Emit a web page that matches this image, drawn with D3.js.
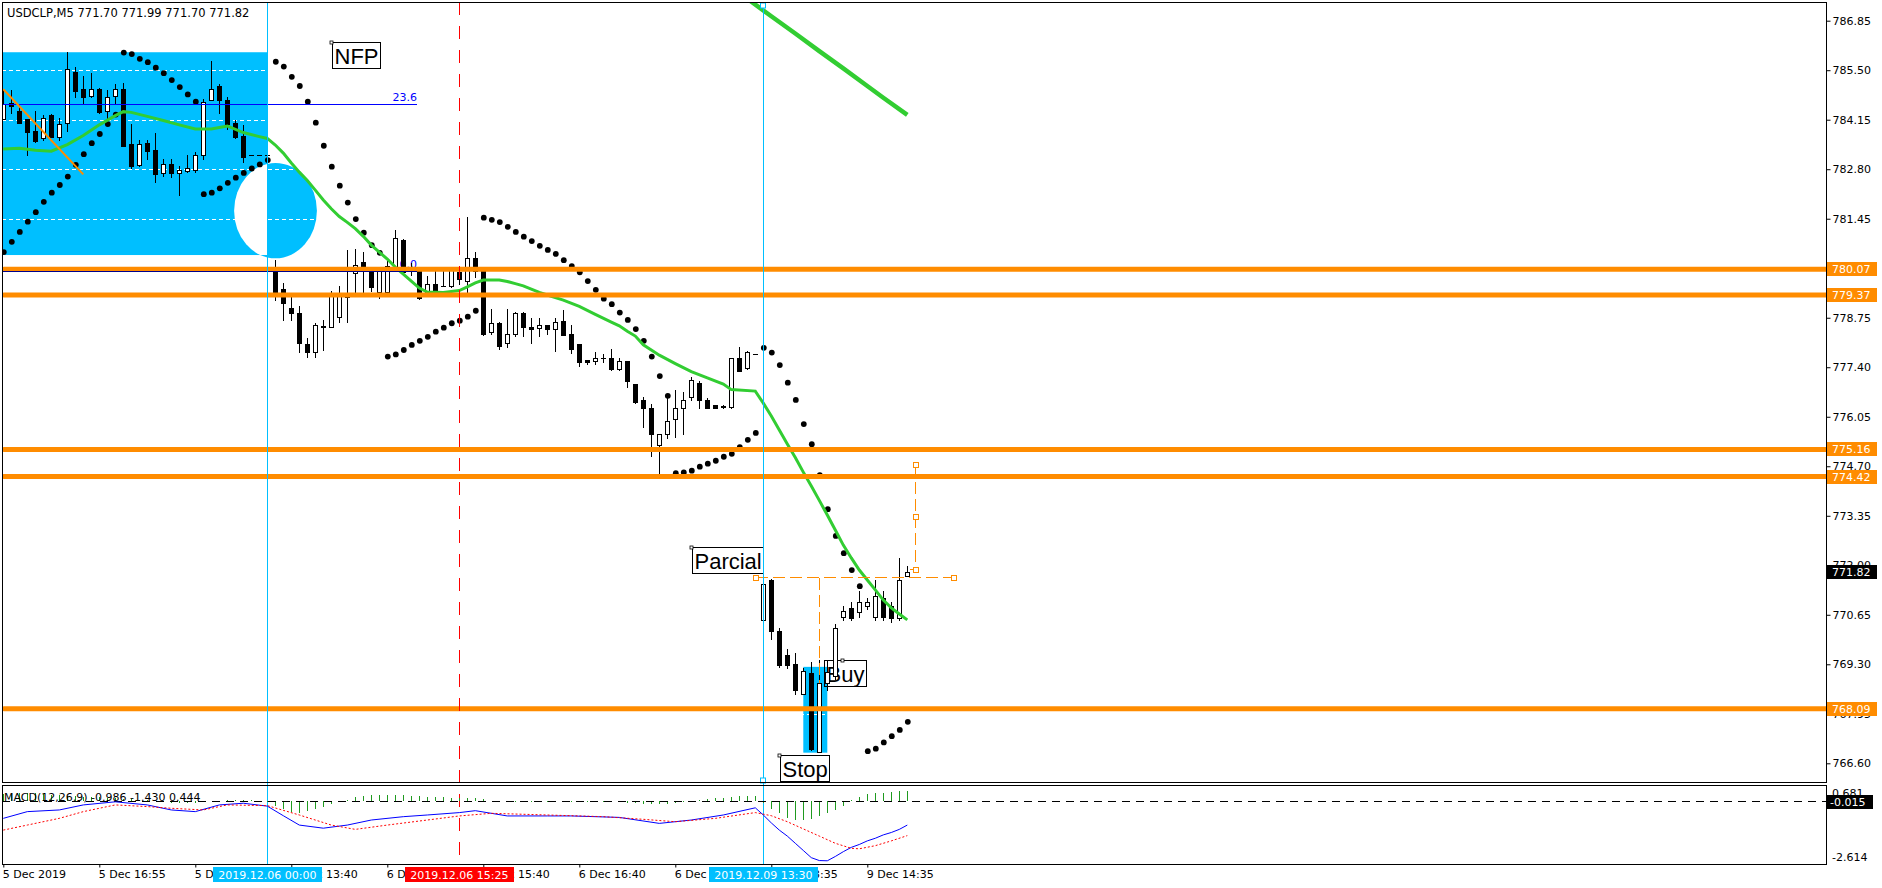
<!DOCTYPE html>
<html><head><meta charset="utf-8">
<script src="https://cdnjs.cloudflare.com/ajax/libs/d3/7.8.5/d3.min.js"></script>
<style>
html,body{margin:0;padding:0;background:#fff;}
svg{display:block;}
text{font-family:"DejaVu Sans",Tahoma,sans-serif;}
</style></head><body>
<svg id="chart" width="1882" height="888"></svg>
<script>
// ================= DATA =================
const chartTitle = "USDCLP,M5  771.70 771.99 771.70 771.82";
const macdTitle = "MACD(12,26,9) -0.986 -1.430 0.444";

const opens = [
784.18,784.60,784.38,784.16,783.84,783.64,784.27,783.68,784.05,785.45,
785.00,784.79,785.00,784.39,784.81,784.99,783.48,782.91,783.52,783.32,
782.70,782.94,782.71,782.75,782.79,783.20,784.70,785.07,784.70,784.06,
783.70,783.18,783.18,783.18,780.00,779.53,779.02,778.89,778.03,777.82,
778.52,778.50,778.77,779.33,779.98,780.26,780.07,779.46,779.44,780.07,
780.87,780.02,780.09,779.36,779.68,779.62,779.62,779.99,779.76,780.39,
780.05,778.36,778.62,778.05,778.32,778.89,778.49,778.46,778.55,778.43,
778.66,778.30,778.03,777.59,777.57,777.66,777.64,777.35,777.57,776.93,
776.50,776.28,775.29,775.57,776.00,776.30,776.58,776.96,776.52,776.37,
776.33,776.32,777.64,777.37,777.76,770.50,771.59,770.21,769.55,769.30,
768.50,769.05,766.91,768.78,768.98,770.60,770.83,770.72,770.90,770.60,
771.10,770.90,770.55,771.70];
const highs = [
784.96,784.96,784.57,784.17,784.38,784.27,784.30,784.19,785.99,785.59,
785.34,785.43,785.01,784.96,785.12,785.14,784.03,783.59,783.59,783.80,
783.07,783.07,782.88,783.18,783.27,784.71,785.75,785.12,784.76,784.14,
784.00,783.18,783.18,783.18,780.32,779.71,779.34,779.07,778.21,778.60,
778.68,779.48,779.61,780.61,780.62,780.53,780.12,780.09,780.37,781.14,
780.89,780.23,780.10,779.88,780.12,780.09,780.10,780.09,781.50,780.54,
780.06,779.00,778.63,779.00,778.90,778.90,778.73,778.73,778.56,778.73,
778.96,778.55,778.03,777.61,777.82,777.76,777.91,777.64,777.57,776.94,
776.59,776.39,775.59,776.56,776.77,776.73,777.14,777.03,776.55,776.37,
776.37,777.64,777.94,777.85,777.76,772.08,771.62,770.28,769.73,769.60,
769.19,769.36,769.41,769.40,770.40,770.90,771.00,771.30,771.10,771.60,
771.30,771.00,772.20,771.99];
const lows = [
784.17,784.33,784.05,783.18,783.54,783.59,783.67,783.59,783.84,784.77,
784.57,784.78,784.33,784.19,784.60,783.43,782.82,782.88,783.09,782.45,
782.61,782.59,782.09,782.73,782.72,783.07,784.68,784.34,783.91,783.65,
783.00,783.18,783.18,783.18,779.23,778.68,778.68,777.82,777.68,777.68,
777.87,778.49,778.64,778.64,779.37,779.46,779.48,779.30,779.43,780.05,
779.99,779.91,779.26,779.34,779.37,779.61,779.58,779.68,779.34,779.86,
778.27,778.32,777.91,777.94,778.25,778.26,778.05,778.26,778.32,777.84,
778.27,777.79,777.43,777.48,777.48,777.55,777.32,777.32,776.87,776.42,
775.77,774.98,774.48,775.46,775.49,775.59,776.50,776.30,776.28,776.28,
776.28,776.28,777.29,777.36,777.76,770.37,770.00,769.22,769.19,768.50,
768.49,766.96,766.90,768.60,768.90,770.50,770.50,770.60,770.80,770.50,
770.50,770.45,770.50,771.70];
const closes = [
784.57,784.52,784.06,783.82,783.57,784.21,783.68,784.02,785.53,784.93,
784.77,785.00,784.36,784.77,784.98,783.44,782.89,783.50,783.30,782.68,
782.93,782.70,782.77,782.84,783.18,784.64,784.98,784.70,784.03,783.67,
783.14,783.18,783.18,783.18,779.43,779.14,778.88,778.07,777.82,778.54,
778.51,779.41,779.34,779.31,780.20,780.02,779.58,780.03,780.16,780.93,
780.00,780.09,779.29,779.66,779.48,779.62,780.09,779.80,780.39,780.03,
778.32,778.62,777.98,778.30,778.89,778.49,778.43,778.55,778.43,778.64,
778.29,777.89,777.55,777.55,777.64,777.66,777.35,777.57,777.03,776.44,
776.28,775.59,775.57,775.94,776.30,776.52,777.05,776.52,776.30,776.30,
776.31,777.64,777.29,777.82,777.76,771.48,770.21,769.28,769.28,768.59,
769.12,767.00,768.78,769.10,770.29,770.75,770.56,770.99,771.00,771.16,
770.60,770.55,771.60,771.82];

// Parabolic SAR, one per bar
const sar = [
780.54,780.82,781.09,781.37,781.63,781.91,782.16,782.37,782.60,782.92,
783.21,783.51,783.76,784.03,784.29,785.98,785.94,785.81,785.72,785.57,
785.42,785.23,785.04,784.84,784.64,782.12,782.16,782.28,782.43,782.57,
782.70,782.82,782.93,783.05,785.73,785.60,785.32,785.07,784.64,784.07,
783.44,782.87,782.35,781.89,781.44,781.07,780.73,780.52,777.69,777.75,
777.87,778.01,778.12,778.23,778.37,778.48,778.60,778.67,778.78,778.94,
781.48,781.42,781.36,781.23,781.09,780.96,780.84,780.71,780.60,780.49,
780.32,780.16,779.99,779.75,779.51,779.27,779.12,778.89,778.69,778.44,
778.12,777.69,777.16,776.62,774.51,774.53,774.58,774.69,774.77,774.85,
774.96,775.04,775.22,775.42,775.61,777.93,777.80,777.46,776.98,776.51,
775.85,775.30,774.46,773.53,772.80,772.33,771.87,771.43,766.93,767.00,
767.17,767.34,767.51,767.73];

// Moving average (green), read at bar indices
const maIdx = [0,2,4,6,8,10,12,14,15,16,18,20,22,24,26,28,30,32,33,34,35,36,37,38,39,40,41,42,43,44,45,46,47,48,49,50,51,52,53,55,57,58,59,60,62,63,64,65,66,67,68,70,72,74,76,77,78,79,80,82,84,86,88,90,91,94,95,96,97,98,99,100,101,102,103,104,105,106,107,108,109,110,111,112,113];
const maVal = [783.35,783.37,783.32,783.29,783.47,783.72,784.01,784.26,784.37,784.35,784.24,784.13,784.01,783.90,783.90,783.98,783.80,783.69,783.64,783.46,783.24,782.97,782.72,782.49,782.23,781.96,781.72,781.51,781.35,781.18,780.97,780.73,780.54,780.35,780.13,779.94,779.75,779.56,779.45,779.44,779.49,779.59,779.70,779.78,779.78,779.74,779.68,779.62,779.53,779.44,779.37,779.23,779.06,778.84,778.63,778.53,778.38,778.25,778.01,777.73,777.50,777.28,777.11,776.94,776.79,776.75,776.42,776.07,775.69,775.31,774.94,774.54,774.16,773.77,773.37,772.96,772.55,772.20,771.87,771.60,771.33,771.05,770.84,770.67,770.51];

// Higher-timeframe MA (thick green, top right)
const ma2Idx = [93,96,99,102,105,108,110,113];
const ma2Val = [787.45,786.97,786.50,786.02,785.55,785.07,784.75,784.28];

// MACD
const macdIdx = [0,3,7,10,14,18,21,24,27,30,33,35,37,40,43,46,50,53,57,59,63,68,71,77,82,86,90,94,95,96,97,98,99,100,101,102,103,104,105,106,107,108,109,110,111,112,113];
const macdMain = [-0.71,-0.43,-0.36,-0.15,-0.02,-0.15,-0.36,-0.43,-0.15,-0.08,-0.20,-0.60,-0.99,-1.12,-0.99,-0.78,-0.64,-0.57,-0.47,-0.39,-0.61,-0.61,-0.61,-0.67,-0.92,-0.78,-0.57,-0.27,-0.57,-0.90,-1.20,-1.45,-1.75,-2.05,-2.35,-2.47,-2.48,-2.30,-2.10,-1.92,-1.80,-1.65,-1.54,-1.40,-1.30,-1.17,-0.99];
const sigIdx = [0,3,7,10,14,18,21,25,28,33,37,41,44,48,53,57,61,68,75,80,84,89,94,96,98,100,102,104,106,107,109,111,113];
const sigVal = [-1.20,-0.99,-0.71,-0.43,-0.15,-0.22,-0.29,-0.36,-0.15,-0.18,-0.57,-0.99,-1.17,-0.99,-0.78,-0.61,-0.50,-0.57,-0.64,-0.75,-0.85,-0.71,-0.47,-0.60,-0.85,-1.15,-1.45,-1.75,-1.96,-1.98,-1.85,-1.65,-1.43];
const macdHist = [
0.30,0.32,0.34,0.35,0.33,0.30,0.27,0.25,0.24,0.22,
0.20,0.18,0.16,0.14,0.12,0.10,0.08,0.07,0.06,0.03,
-0.02,-0.05,-0.07,-0.07,-0.06,-0.04,0.00,0.03,0.04,0.05,
0.06,0.04,0.02,-0.02,-0.18,-0.33,-0.45,-0.48,-0.42,-0.33,
-0.22,-0.12,-0.04,0.06,0.16,0.22,0.26,0.28,0.28,0.27,
0.25,0.23,0.21,0.20,0.18,0.16,0.15,0.14,0.14,0.13,
0.09,0.02,-0.03,-0.04,-0.03,-0.02,-0.02,-0.03,-0.04,-0.03,
-0.02,-0.01,0.00,-0.01,-0.02,-0.02,-0.02,-0.03,-0.06,-0.09,
-0.11,-0.12,-0.12,-0.10,-0.06,-0.01,0.03,0.07,0.11,0.13,
0.15,0.20,0.22,0.24,0.22,-0.05,-0.30,-0.50,-0.68,-0.76,
-0.78,-0.72,-0.62,-0.50,-0.38,-0.18,0.05,0.16,0.30,0.33,
0.35,0.38,0.41,0.444];
const macdMax = 0.681, macdMin = -2.614, macdLevel = -0.015;

// Axis ticks
const priceTicks = [786.85,785.50,784.15,782.80,781.45,780.10,778.75,777.40,776.05,774.70,773.35,772.00,770.65,769.30,767.95,766.60];
const timeIdx = [0,12,24,36,48,60,72,84,96,108];
const timeLabels = ["5 Dec 2019","5 Dec 16:55","5 Dec 17:55","6 Dec 13:40","6 Dec 14:40","6 Dec 15:40","6 Dec 16:40","6 Dec 17:40","9 Dec 13:35","9 Dec 14:35"];

// Objects
const levelPrices = [780.07,779.37,775.16,774.42,768.09];
const lastPrice = 771.82;
const vLineIdx = [33,57,95];
const vLineLabels = ["2019.12.06 00:00","2019.12.06 15:25","2019.12.09 13:30"];
const vLineColors = ["#00bfff","#ff0000","#00bfff"];
const fibLevels = ["23.6","0.0"];
const fibPrices = [784.58,780.02];
const fibEndIdx = 51.7;
const fibTrendIdx = [0,10], fibTrendPrice = [784.98,782.66];
const boxIdx = [-1,33], boxPrice = [785.99,780.46];
const ellIdx = [28.85,39.2], ellPrice = [780.37,782.97];
const stopBoxIdx = [100,103], stopBoxPrice = [769.23,766.89];
const notes = ["NFP","Parcial","Buy","Stop"];
const noteIdx = [41.1,86.1,102.6,97.04];
const notePrice = [786.26,772.49,769.41,766.82];
// trade drawing (orange dashed)
const tradeHIdx = [94,118.7], tradePrice = 771.69;
const tradeV1Idx = 102, tradeV1Price = [771.69,768.81];
const tradeV2Idx = 114, tradeV2Price = [774.76,773.34,771.89];

// ================= DRAW =================
const W=1882,H=888,L=2,R=1826,T=2,B=782,MT=785,MB=864;
const svg=d3.select('#chart');
const x=d3.scaleLinear().domain([0,113]).range([3.3,907.3]);
const y=d3.scaleLinear().domain([766.60,786.85]).range([763.3,20.7]);
const ym=d3.scaleLinear().domain([macdMin,macdMax]).range([MB,MT]);
const cx=i=>Math.round(x(i))+0.5;
const cy=v=>Math.round(y(v))+0.5;
const cym=v=>Math.round(ym(v))+0.5;

svg.append('rect').attr('width',W).attr('height',H).attr('fill','#fff');
const defs=svg.append('defs');
defs.append('clipPath').attr('id','cMain').append('rect').attr('x',L).attr('y',T).attr('width',R-L).attr('height',B-T);
defs.append('clipPath').attr('id','cMacd').append('rect').attr('x',L).attr('y',MT).attr('width',R-L).attr('height',MB-MT);
const bx0=Math.max(L,x(boxIdx[0])), bx1=x(boxIdx[1]), by0=y(boxPrice[0]), by1=y(boxPrice[1]);
defs.append('clipPath').attr('id','cBox').append('rect').attr('x',bx0).attr('y',by0).attr('width',bx1-bx0).attr('height',by1-by0);

const g=svg.append('g').attr('clip-path','url(#cMain)');

// background rectangles
g.append('rect').attr('x',bx0).attr('y',by0).attr('width',bx1-bx0).attr('height',by1-by0).attr('fill','#00bfff');
g.append('rect').attr('x',x(stopBoxIdx[0])).attr('y',y(stopBoxPrice[0])).attr('width',x(stopBoxIdx[1])-x(stopBoxIdx[0])).attr('height',y(stopBoxPrice[1])-y(stopBoxPrice[0])).attr('fill','#00bfff');
// ellipse (xor effect)
const ecx=(x(ellIdx[0])+x(ellIdx[1]))/2, ecy=(y(ellPrice[0])+y(ellPrice[1]))/2;
const erx=(x(ellIdx[1])-x(ellIdx[0]))/2, ery=(y(ellPrice[0])-y(ellPrice[1]))/2;
g.append('ellipse').attr('cx',ecx).attr('cy',ecy).attr('rx',erx).attr('ry',ery).attr('fill','#00bfff');
g.append('ellipse').attr('cx',ecx).attr('cy',ecy).attr('rx',erx).attr('ry',ery).attr('fill','#fff').attr('clip-path','url(#cBox)');

// grid
g.selectAll('line.grid').data(priceTicks).join('line').attr('class','grid')
 .attr('x1',L).attr('x2',R).attr('y1',d=>cy(d)).attr('y2',d=>cy(d))
 .attr('stroke','#fff').attr('stroke-dasharray','4,3').attr('shape-rendering','crispEdges');

// note boxes (background)
notes.forEach((t,i)=>{
  const nx=Math.round(x(noteIdx[i]))+0.5, ny=Math.round(y(notePrice[i]))+0.5;
  const tx=g.append('text').attr('x',nx+2).attr('y',ny+21).text(t)
    .style('font-family','"Liberation Sans",Arial,sans-serif').style('font-size','22px').attr('fill','#000');
  const w=tx.node().getComputedTextLength()+4;
  g.append('rect').attr('x',nx).attr('y',ny).attr('width',Math.round(w)).attr('height',26)
    .attr('fill','none').attr('stroke','#000').attr('shape-rendering','crispEdges');
  const ax = (t==="Buy") ? nx+18 : nx-1;
  g.append('rect').attr('x',ax-1.5).attr('y',ny-1.5).attr('width',3).attr('height',3).attr('fill','#fff').attr('stroke','#000').attr('stroke-width',0.8);
});

// fib labels
fibLevels.forEach((t,i)=>{
  g.append('text').attr('x',x(fibEndIdx)).attr('y',y(fibPrices[i])-3).attr('text-anchor','end')
   .style('font-size','11px').attr('fill','#0000ff').text(t);
});

// candles
const bars=opens.map((o,i)=>({i,o,h:highs[i],l:lows[i],c:closes[i]}));
g.selectAll('line.wick').data(bars).join('line').attr('class','wick')
 .attr('x1',d=>cx(d.i)).attr('x2',d=>cx(d.i)).attr('y1',d=>Math.round(y(d.h))).attr('y2',d=>Math.round(y(d.l))+1)
 .attr('stroke','#000').attr('shape-rendering','crispEdges');
bars.forEach(d=>{
  const top=Math.round(y(Math.max(d.o,d.c))), bot=Math.round(y(Math.min(d.o,d.c)));
  if(bot-top<1){
    g.append('line').attr('x1',cx(d.i)-2.5).attr('x2',cx(d.i)+2.5).attr('y1',top+0.5).attr('y2',top+0.5)
     .attr('stroke','#000').attr('shape-rendering','crispEdges');
  } else {
    g.append('rect').attr('x',cx(d.i)-2).attr('y',top+0.5).attr('width',4).attr('height',bot-top)
     .attr('fill',d.c>=d.o?'#fff':'#000').attr('stroke','#000').attr('shape-rendering','crispEdges');
  }
});

// SAR dots
g.selectAll('circle.sar').data(sar).join('circle').attr('class','sar')
 .attr('cx',(d,i)=>x(i)+0.5).attr('cy',d=>y(d)).attr('r',2.9).attr('fill','#000');

// MA lines
const ln=d3.line().x(d=>x(d[0])).y(d=>y(d[1]));
g.append('path').datum(maIdx.map((k,i)=>[k,maVal[i]])).attr('d',ln).attr('fill','none').attr('stroke','#32cd32').attr('stroke-width',3);
g.append('path').datum(ma2Idx.map((k,i)=>[k,ma2Val[i]])).attr('d',ln).attr('fill','none').attr('stroke','#32cd32').attr('stroke-width',4.5);

// vertical lines (main + macd)
vLineIdx.forEach((k,i)=>{
  const vx=cx(k);
  svg.append('line').attr('x1',vx).attr('x2',vx).attr('y1',T).attr('y2',MB)
   .attr('stroke',vLineColors[i]).attr('stroke-width',1)
   .attr('stroke-dasharray',vLineColors[i]==='#ff0000'?'13,11':null).attr('shape-rendering','crispEdges');
});
svg.append('rect').attr('x',cx(95)-3).attr('y',T+1).attr('width',5).attr('height',5).attr('fill','#fff').attr('stroke','#00bfff');
svg.append('rect').attr('x',cx(95)-3).attr('y',B-4).attr('width',5).attr('height',5).attr('fill','#fff').attr('stroke','#00bfff');

// orange levels
g.selectAll('line.lvl').data(levelPrices).join('line').attr('class','lvl')
 .attr('x1',L+2).attr('x2',R).attr('y1',d=>y(d)).attr('y2',d=>y(d))
 .attr('stroke','#ff8c00').attr('stroke-width',5).attr('stroke-linecap','round');

// fib lines
fibPrices.forEach((p,i)=>{
  g.append('line').attr('x1',L).attr('x2',x(fibEndIdx)).attr('y1',cy(p)).attr('y2',cy(p))
   .attr('stroke',i===0?'#0000ff':'#00008b').attr('shape-rendering','crispEdges');
});
g.append('line').attr('x1',x(fibTrendIdx[0])).attr('x2',x(fibTrendIdx[1]))
 .attr('y1',y(fibTrendPrice[0])).attr('y2',y(fibTrendPrice[1])).attr('stroke','#ff8c00').attr('stroke-width',2);

// trade drawing
const og=g.append('g').attr('stroke','#ff8c00').attr('fill','none').attr('shape-rendering','crispEdges');
og.append('line').attr('x1',cx(tradeHIdx[0])).attr('x2',cx(tradeHIdx[1])).attr('y1',cy(tradePrice)).attr('y2',cy(tradePrice)).attr('stroke-dasharray','12,5');
og.append('line').attr('x1',cx(tradeV1Idx)).attr('x2',cx(tradeV1Idx)).attr('y1',cy(tradeV1Price[0])).attr('y2',cy(tradeV1Price[1])).attr('stroke-dasharray','12,5');
og.append('line').attr('x1',cx(tradeV2Idx)).attr('x2',cx(tradeV2Idx)).attr('y1',cy(tradeV2Price[0])).attr('y2',cy(tradeV2Price[2])).attr('stroke-dasharray','12,5');
og.append('line').attr('x1',cx(tradeV2Idx)-6).attr('x2',cx(tradeV2Idx)).attr('y1',cy(tradeV2Price[2])).attr('y2',cy(tradeV2Price[2]));
[[tradeHIdx[0],tradePrice],[tradeHIdx[1],tradePrice]].concat(tradeV2Price.map(p=>[tradeV2Idx,p])).forEach(d=>{
  og.append('rect').attr('x',cx(d[0])-2.5).attr('y',cy(d[1])-2.5).attr('width',5).attr('height',5).attr('fill','#fff');
});

// title
svg.append('text').attr('x',7).attr('y',17).style('font-size','11.5px').attr('fill','#000').text(chartTitle);

// ----- MACD panel -----
const gmacd=svg.append('g').attr('clip-path','url(#cMacd)');
gmacd.selectAll('line.h').data(macdHist).join('line').attr('class','h')
 .attr('x1',(d,i)=>cx(i)).attr('x2',(d,i)=>cx(i)).attr('y1',ym(0)).attr('y2',d=>ym(d))
 .attr('stroke','#1f9a1f').attr('stroke-width',1).attr('shape-rendering','crispEdges');
gmacd.append('line').attr('x1',L).attr('x2',R).attr('y1',cym(0)).attr('y2',cym(0))
 .attr('stroke','#000').attr('stroke-dasharray','8,6').attr('shape-rendering','crispEdges');
const lm=d3.line().x(d=>x(d[0])).y(d=>ym(d[1]));
gmacd.append('path').datum(macdIdx.map((k,i)=>[k,macdMain[i]])).attr('d',lm).attr('fill','none').attr('stroke','#0000ff').attr('stroke-width',1);
gmacd.append('path').datum(sigIdx.map((k,i)=>[k,sigVal[i]])).attr('d',lm).attr('fill','none').attr('stroke','#ff0000').attr('stroke-width',1).attr('stroke-dasharray','2,2');
svg.append('text').attr('x',4).attr('y',801).style('font-size','11px').attr('fill','#000').text(macdTitle);

// ----- borders -----
const bd=svg.append('g').attr('stroke','#000').attr('fill','none').attr('shape-rendering','crispEdges');
bd.append('rect').attr('x',L+0.5).attr('y',T+0.5).attr('width',R-L).attr('height',B-T);
bd.append('rect').attr('x',L+0.5).attr('y',MT+0.5).attr('width',R-L).attr('height',MB-MT);

// ----- right price axis -----
const ax=svg.append('g').attr('transform',`translate(${R+0.5},0)`)
 .call(d3.axisRight(y).tickValues(priceTicks).tickSize(4).tickPadding(2).tickFormat(d3.format('.2f')));
ax.select('.domain').remove();
ax.selectAll('text').style('font-size','11px').style('font-family','"DejaVu Sans",Tahoma,sans-serif').attr('fill','#000');
ax.selectAll('line').attr('stroke','#000');

levelPrices.forEach(p=>{
  svg.append('rect').attr('x',R+1).attr('y',Math.round(y(p))-7).attr('width',50).attr('height',14).attr('fill','#ff8c00');
  svg.append('text').attr('x',R+6).attr('y',Math.round(y(p))+4).style('font-size','11px').attr('fill','#fff').text(p.toFixed(2));
});
svg.append('rect').attr('x',R+1).attr('y',Math.round(y(lastPrice))-7).attr('width',50).attr('height',14).attr('fill','#000');
svg.append('text').attr('x',R+6).attr('y',Math.round(y(lastPrice))+4).style('font-size','11px').attr('fill','#fff').text(lastPrice.toFixed(2));

svg.append('text').attr('x',R+6).attr('y',ym(macdMax)+12).style('font-size','11px').attr('fill','#000').text(macdMax.toFixed(3));
svg.append('text').attr('x',R+6).attr('y',ym(macdMin)-3).style('font-size','11px').attr('fill','#000').text(macdMin.toFixed(3));
svg.append('rect').attr('x',R+1).attr('y',Math.round(ym(macdLevel))-7).attr('width',46).attr('height',14).attr('fill','#000');
svg.append('text').attr('x',R+4).attr('y',Math.round(ym(macdLevel))+4).style('font-size','11px').attr('fill','#fff').text(macdLevel.toFixed(3));

// ----- time axis -----
const tx=svg.append('g').attr('transform',`translate(0,${MB+0.5})`)
 .call(d3.axisBottom(x).tickValues(timeIdx).tickSize(3).tickPadding(3).tickFormat((d,i)=>timeLabels[i]));
tx.select('.domain').remove();
tx.selectAll('line').attr('stroke','#000');
tx.selectAll('text').attr('text-anchor','start').attr('dx',-1).style('font-size','11px').style('font-family','"DejaVu Sans",Tahoma,sans-serif').attr('fill','#000');

vLineIdx.forEach((k,i)=>{
  const vx=x(k);
  svg.append('rect').attr('x',Math.round(vx-54.5)).attr('y',867).attr('width',109).attr('height',15).attr('fill',vLineColors[i]);
  svg.append('text').attr('x',vx).attr('y',878.5).attr('text-anchor','middle').style('font-size','11px').attr('fill','#fff').text(vLineLabels[i]);
});
</script>
</body></html>
